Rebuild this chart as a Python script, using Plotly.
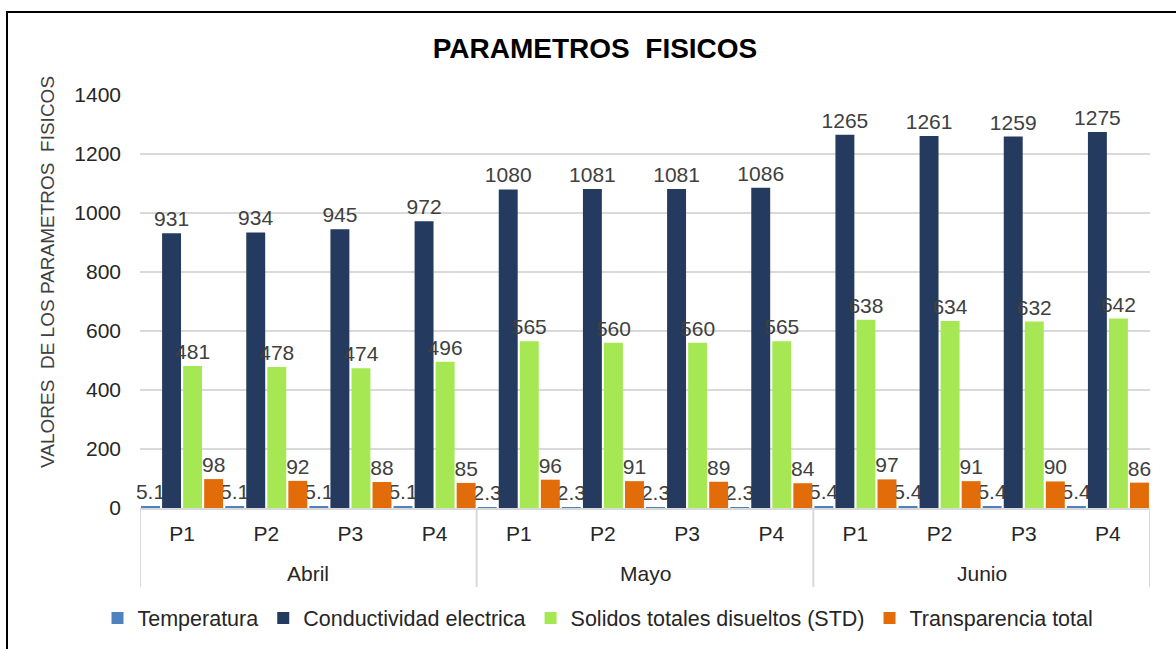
import plotly.graph_objects as go

meses = ["Abril", "Abril", "Abril", "Abril", "Mayo", "Mayo", "Mayo", "Mayo", "Junio", "Junio", "Junio", "Junio"]
puntos = ["P1", "P2", "P3", "P4", "P1", "P2", "P3", "P4", "P1", "P2", "P3", "P4"]

temperatura = [5.1, 5.1, 5.1, 5.1, 2.3, 2.3, 2.3, 2.3, 5.4, 5.4, 5.4, 5.4]
conductividad = [931, 934, 945, 972, 1080, 1081, 1081, 1086, 1265, 1261, 1259, 1275]
solidos = [481, 478, 474, 496, 565, 560, 560, 565, 638, 634, 632, 642]
transparencia = [98, 92, 88, 85, 96, 91, 89, 84, 97, 91, 90, 86]

series = [
    ("Temperatura", temperatura, "#4f81bd"),
    ("Conductividad electrica", conductividad, "#243a5e"),
    ("Solidos totales disueltos (STD)", solidos, "#a6e854"),
    ("Transparencia total", transparencia, "#e36c0a"),
]

FONT = "Liberation Sans, Arial, sans-serif"

categorias = [m + " " + p for m, p in zip(meses, puntos)]

fig = go.Figure()
for name, vals, color in series:
    fig.add_trace(go.Bar(
        name=name,
        x=categorias,
        y=vals,
        marker=dict(color=color, line=dict(width=0)),
        text=[str(v) for v in vals],
        textposition="outside",
        constraintext="none",
        cliponaxis=False,
        textfont=dict(family=FONT, size=21, color="#404040"),
    ))

# plot area in pixels: x 140..1150, y 95..508
L, R, T, B = 140, 1150, 95, 508
W, H = 1176, 649
pw, ph = R - L, B - T

def px(x):
    return (x - L) / pw

def py(y):
    return (B - y) / ph

fig.update_layout(
    width=W, height=H,
    margin=dict(l=L, r=W - R, t=T, b=H - B, autoexpand=False),
    paper_bgcolor="white",
    plot_bgcolor="white",
    barmode="group",
    bargap=0.0,
    bargroupgap=0.1,
    font=dict(family=FONT, size=21, color="#262626"),
    title=dict(
        text="<b>PARAMETROS  FISICOS</b>",
        font=dict(family=FONT, size=28, color="#000000"),
        x=px(595), xref="paper", xanchor="center",
        y=1 - 48 / H, yref="container", yanchor="middle",
    ),
    legend=dict(
        orientation="h",
        x=px(598), xanchor="center",
        y=py(618), yanchor="middle",
        font=dict(family=FONT, size=21.5, color="#262626"),
        itemwidth=30,
        traceorder="normal",
    ),
    showlegend=True,
)

fig.update_xaxes(
    type="category",
    categoryorder="array", categoryarray=categorias,
    tickvals=categorias, ticktext=puntos,
    range=[-0.5, len(categorias) - 0.5],
    showline=True, linecolor="#d9d9d9", linewidth=2,
    showgrid=False,
    ticks="",
    ticklabelstandoff=6,
    tickfont=dict(family=FONT, size=21, color="#262626"),
)

fig.update_yaxes(
    range=[0, 1400],
    dtick=200,
    showgrid=True, gridcolor="#d9d9d9", gridwidth=2,
    zeroline=False,
    showline=False,
    ticks="",
    ticklabelstandoff=18,
    tickfont=dict(family=FONT, size=21, color="#262626"),
)

# y-axis title as a rotated annotation
fig.add_annotation(
    text="VALORES  DE LOS PARAMETROS  FISICOS",
    xref="paper", yref="paper",
    x=px(47), y=py(272),
    xanchor="center", yanchor="middle",
    textangle=-90, showarrow=False,
    font=dict(family=FONT, size=19, color="#404040"),
)

# month group labels and dividers on the category axis
grupos = []
for i, m in enumerate(meses):
    if not grupos or grupos[-1][0] != m:
        grupos.append([m, i, i])
    else:
        grupos[-1][2] = i

for m, i0, i1 in grupos:
    fig.add_annotation(
        text=m, xref="x", yref="paper",
        x=(i0 + i1) / 2, y=py(573),
        xanchor="center", yanchor="middle",
        showarrow=False,
        font=dict(family=FONT, size=21, color="#262626"),
    )

bordes = [grupos[0][1] - 0.5] + [g[2] + 0.5 for g in grupos]
for b in bordes:
    fig.add_shape(
        type="line", xref="x", yref="paper",
        x0=b, x1=b, y0=0, y1=py(587),
        line=dict(color="#d9d9d9", width=2),
    )

# outer frame of the chart
fig.add_shape(
    type="rect", xref="paper", yref="paper",
    x0=px(7), x1=px(1185), y0=py(660), y1=py(12),
    line=dict(color="#000000", width=2),
    fillcolor="rgba(0,0,0,0)",
    layer="above",
)

fig.write_html(
    "out.html",
    config={"displayModeBar": False},
    post_script="document.body.style.margin='0px';",
)
